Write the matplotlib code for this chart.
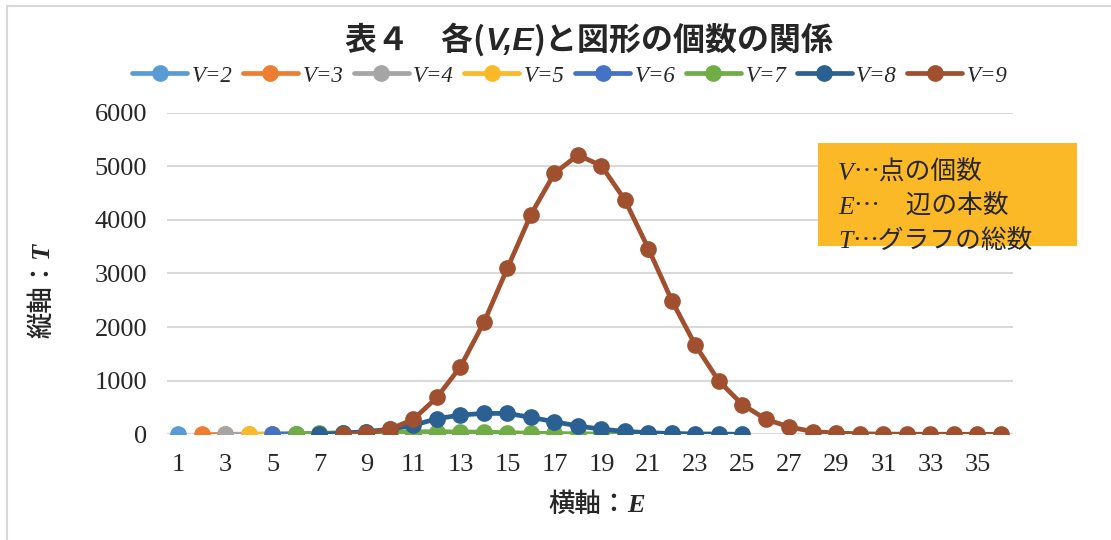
import matplotlib
matplotlib.use("Agg")
import matplotlib.pyplot as plt
from matplotlib.patches import Rectangle
from matplotlib.text import Annotation

# number of figures T for each (V, E); every series starts at E = V - 1
v_labels = ["V=2", "V=3", "V=4", "V=5", "V=6", "V=7", "V=8", "V=9"]
v_start = [1, 2, 3, 4, 5, 6, 7, 8]
t_v2 = [1]
t_v3 = [1, 1]
t_v4 = [2, 2, 1, 1]
t_v5 = [3, 5, 5, 4, 2, 1, 1]
t_v6 = [6, 10, 12, 13, 12, 10, 7, 5, 3, 2, 1]
t_v7 = [10, 20, 30, 40, 45, 50, 48, 45, 40, 30, 22, 15, 10, 6, 3, 1]
t_v8 = [5, 20, 50, 95, 170, 290, 360, 390, 390, 315, 235, 155, 95, 55, 30,
        15, 8, 4, 1]
t_v9 = [5, 20, 95, 280, 690, 1260, 2090, 3100, 4100, 4870, 5210, 5010, 4370,
        3460, 2490, 1660, 990, 555, 280, 136, 50, 24, 10, 5, 2, 1, 1, 0, 0]
series = [t_v2, t_v3, t_v4, t_v5, t_v6, t_v7, t_v8, t_v9]
colors = ["#5B9BD5", "#ED7D31", "#A5A5A5", "#FBB827", "#4472C4", "#70AD47",
          "#2A6092", "#A0502E"]

x_ticks = list(range(1, 37, 2))
y_ticks = [0, 1000, 2000, 3000, 4000, 5000, 6000]

W, H = 1111, 540
fig = plt.figure(figsize=(W / 100, H / 100), dpi=100)
ax = fig.add_axes([166.7 / W, 1 - 434.3 / H, (1012.7 - 166.7) / W, (434.3 - 112.7) / H])

# outer chart frame (only top and left edges are inside the picture)
fig.patches.append(Rectangle((7 / W, -0.05), 1.1, 1 - 6 / H + 0.05,
                             transform=fig.transFigure, fill=False,
                             edgecolor="#D9D9D9", linewidth=1.5))

for s, start, c, lab in zip(series, v_start, colors, v_labels):
    xs = list(range(start, start + len(s)))
    ax.plot(xs, s, color=c, linewidth=3.4, marker="o", markersize=11,
            label=lab, solid_capstyle="round", zorder=3)

ax.set_xlim(0.5, 36.5)
ax.set_ylim(0, 6000)
ax.set_xticks(x_ticks)
ax.set_yticks(y_ticks)
ax.tick_params(length=0, labelsize=19)
for t in ax.get_xticklabels() + ax.get_yticklabels():
    t.set_fontfamily("Liberation Serif")
    t.set_color("#262626")
ax.tick_params(axis="x", pad=14)
ax.tick_params(axis="y", pad=14)
ax.grid(axis="y", color="#D9D9D9", linewidth=1.5, zorder=0)
for sp in ax.spines.values():
    sp.set_visible(False)

leg = fig.legend(loc="center", bbox_to_anchor=(570 / W, 1 - 76 / H), ncol=8,
                 frameon=False, handlelength=2.4, handletextpad=0.2,
                 columnspacing=0.45, borderaxespad=0,
                 prop={"family": "Liberation Serif", "style": "italic", "size": 16.5})
for t in leg.get_texts():
    t.set_color("#262626")


def chain(pieces, x0, y0, **kw):
    # write text pieces one after another on the same baseline
    prev = fig.text(x0, y0, pieces[0][0], va="baseline", ha="left", **pieces[0][1], **kw)
    for txt, style in pieces[1:]:
        ann = Annotation(txt, xy=(1, y0), xycoords=(prev, "figure fraction"),
                         va="baseline", ha="left", annotation_clip=False,
                         **style, **kw)
        fig.add_artist(ann)
        prev = ann
    return prev


jp_b = {"family": "Noto Sans CJK JP", "weight": "bold"}
lat_bi = {"family": "Liberation Sans", "weight": "bold", "style": "italic"}
chain([("表４　各(", jp_b), ("V,E", lat_bi), (")と図形の個数の関係", jp_b)],
      345 / W, 1 - 50 / H, size=23, color="#262626")

# info box
fig.patches.append(Rectangle((818 / W, 1 - 245.7 / H), (1076.7 - 818) / W,
                             (245.7 - 142.7) / H, transform=fig.transFigure,
                             facecolor="#FBB827", edgecolor="none", zorder=1))
jp = {"family": "Noto Sans CJK JP"}
ser_i = {"family": "Liberation Serif", "style": "italic"}
for i, (v, rest) in enumerate([("V", "…点の個数"), ("E", "…　辺の本数"), ("T", "…グラフの総数")]):
    chain([(v, ser_i), (rest, jp)], 838 / W, 1 - (180 + 34 * i) / H,
          size=18.5, color="#262626", zorder=5)

# axis titles
jp_n = {"family": "Noto Sans CJK JP", "weight": "medium"}
ser_bi = {"family": "Liberation Serif", "weight": "bold", "style": "italic"}
chain([("横軸：", jp_n), ("E", ser_bi)], 548 / W, 1 - 512 / H, size=19, color="#262626")

yl = fig.text(42 / W, 1 - 338 / H, "縦軸：", rotation=90, ha="center", va="bottom",
              size=19, color="#262626", **jp_n)
fig.add_artist(Annotation("T", xy=(42 / W, 1), xycoords=("figure fraction", yl),
                          rotation=90, ha="center", va="bottom", size=19,
                          color="#262626", annotation_clip=False, **ser_bi))

fig.savefig("out.png", dpi=100)
